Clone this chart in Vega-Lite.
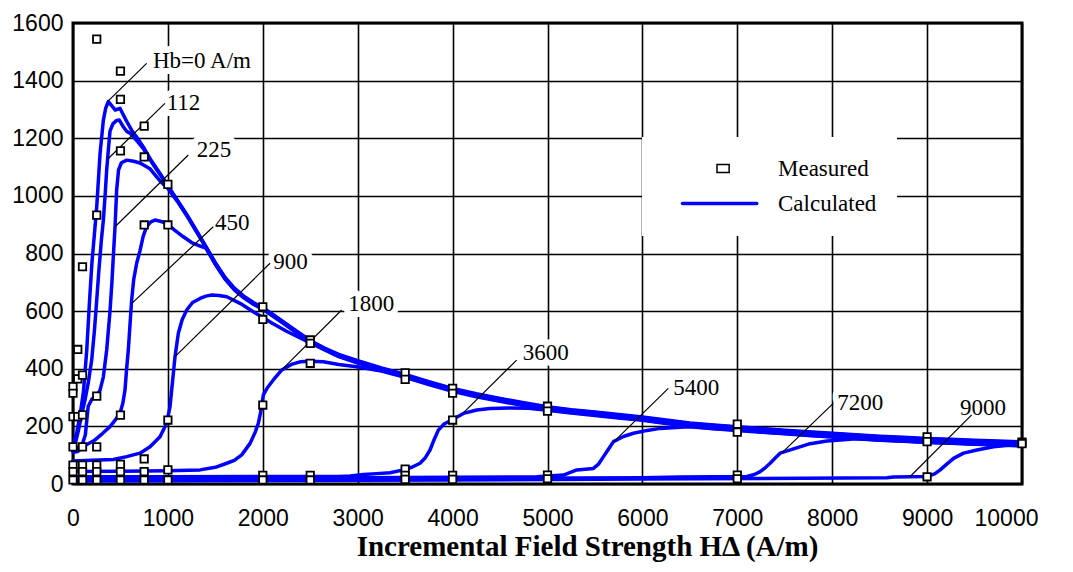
{
 "$schema": "https://vega.github.io/schema/vega-lite/v6.json",
 "width": 949,
 "height": 461,
 "autosize": {"type": "none"},
 "padding": {"left": 73, "top": 23, "right": 51, "bottom": 88},
 "background": "white",
 "config": {
  "view": {"stroke": "black", "strokeWidth": 3},
  "axis": {"domain": false, "ticks": false, "grid": true, "gridColor": "black", "gridWidth": 1.6, "gridOpacity": 1, "labelFont": "Liberation Sans", "labelFontSize": 23, "labelColor": "black", "format": "d"},
  "axisX": {"tickCount": 10, "labelPadding": 23, "labelFlush": false, "labelOverlap": false, "titleFont": "Liberation Serif", "titleFontSize": 29, "titleFontWeight": "bold", "titleColor": "black", "titlePadding": 2, "titleX": 514, "labelOffset": {"condition": {"test": "datum.value === 10000", "value": -16}, "value": 0}},
  "axisY": {"tickCount": 8, "labelPadding": 10, "labelOverlap": false}
 },
 "datasets": {
  "curves": [
   {"hb":"0","h":0,"mu":130},{"hb":"0","h":40,"mu":180},{"hb":"0","h":75,"mu":240},{"hb":"0","h":110,"mu":320},{"hb":"0","h":145,"mu":465},{"hb":"0","h":175,"mu":640},{"hb":"0","h":200,"mu":770},{"hb":"0","h":225,"mu":865},{"hb":"0","h":250,"mu":962},{"hb":"0","h":285,"mu":1147},{"hb":"0","h":320,"mu":1263},{"hb":"0","h":345,"mu":1305},{"hb":"0","h":372,"mu":1327},{"hb":"0","h":410,"mu":1312},{"hb":"0","h":445,"mu":1298},{"hb":"0","h":495,"mu":1304},{"hb":"0","h":560,"mu":1262},{"hb":"0","h":618,"mu":1228},{"hb":"0","h":680,"mu":1200},{"hb":"0","h":741,"mu":1170},{"hb":"0","h":830,"mu":1120},{"hb":"0","h":917,"mu":1078},{"hb":"0","h":1000,"mu":1035},{"hb":"0","h":1100,"mu":985},{"hb":"0","h":1200,"mu":935},{"hb":"0","h":1300,"mu":880},{"hb":"0","h":1400,"mu":825},{"hb":"0","h":1500,"mu":768},{"hb":"0","h":1600,"mu":718},{"hb":"0","h":1700,"mu":680},{"hb":"0","h":1800,"mu":652},{"hb":"0","h":1900,"mu":630},{"hb":"0","h":2000,"mu":612},{"hb":"0","h":2100,"mu":590},{"hb":"0","h":2200,"mu":567},{"hb":"0","h":2350,"mu":532},{"hb":"0","h":2500,"mu":498},{"hb":"0","h":2650,"mu":472},{"hb":"0","h":2800,"mu":450},{"hb":"0","h":3000,"mu":428},{"hb":"0","h":3250,"mu":403},{"hb":"0","h":3500,"mu":380},{"hb":"0","h":3750,"mu":355},{"hb":"0","h":4000,"mu":332},{"hb":"0","h":4250,"mu":313},{"hb":"0","h":4500,"mu":297},{"hb":"0","h":4750,"mu":282},{"hb":"0","h":5000,"mu":268},{"hb":"0","h":5250,"mu":258},{"hb":"0","h":5500,"mu":250},{"hb":"0","h":5750,"mu":241},{"hb":"0","h":6000,"mu":233},{"hb":"0","h":6250,"mu":222},{"hb":"0","h":6500,"mu":212},{"hb":"0","h":6750,"mu":205},{"hb":"0","h":7000,"mu":199},{"hb":"0","h":7250,"mu":193},{"hb":"0","h":7500,"mu":187},{"hb":"0","h":7750,"mu":181},{"hb":"0","h":8000,"mu":176},{"hb":"0","h":8250,"mu":171},{"hb":"0","h":8500,"mu":166},{"hb":"0","h":8750,"mu":162},{"hb":"0","h":9000,"mu":158},{"hb":"0","h":9250,"mu":155},{"hb":"0","h":9500,"mu":152},{"hb":"0","h":9750,"mu":149},{"hb":"0","h":10000,"mu":146},

   {"hb":"112","h":0,"mu":120},{"hb":"112","h":30,"mu":148},{"hb":"112","h":60,"mu":190},{"hb":"112","h":90,"mu":240},{"hb":"112","h":126,"mu":291},{"hb":"112","h":160,"mu":350},{"hb":"112","h":197,"mu":430},{"hb":"112","h":225,"mu":530},{"hb":"112","h":250,"mu":638},{"hb":"112","h":270,"mu":730},{"hb":"112","h":285,"mu":790},{"hb":"112","h":300,"mu":850},{"hb":"112","h":320,"mu":916},{"hb":"112","h":340,"mu":1010},{"hb":"112","h":355,"mu":1090},{"hb":"112","h":375,"mu":1170},{"hb":"112","h":390,"mu":1225},{"hb":"112","h":420,"mu":1250},{"hb":"112","h":460,"mu":1262},{"hb":"112","h":488,"mu":1263},{"hb":"112","h":530,"mu":1240},{"hb":"112","h":565,"mu":1224},{"hb":"112","h":601,"mu":1218},{"hb":"112","h":650,"mu":1200},{"hb":"112","h":741,"mu":1164},{"hb":"112","h":830,"mu":1116},{"hb":"112","h":917,"mu":1074},{"hb":"112","h":1000,"mu":1033},{"hb":"112","h":1100,"mu":983},{"hb":"112","h":1200,"mu":933},{"hb":"112","h":1300,"mu":878},{"hb":"112","h":1400,"mu":823},{"hb":"112","h":1500,"mu":766},{"hb":"112","h":1600,"mu":716},{"hb":"112","h":1700,"mu":678},{"hb":"112","h":1800,"mu":650},{"hb":"112","h":1900,"mu":628},{"hb":"112","h":2000,"mu":610},{"hb":"112","h":2100,"mu":588},{"hb":"112","h":2200,"mu":565},{"hb":"112","h":2350,"mu":530},{"hb":"112","h":2500,"mu":496},{"hb":"112","h":2650,"mu":470},{"hb":"112","h":2800,"mu":448},{"hb":"112","h":3000,"mu":426},{"hb":"112","h":3250,"mu":401},{"hb":"112","h":3500,"mu":378},{"hb":"112","h":3750,"mu":353},{"hb":"112","h":4000,"mu":330},{"hb":"112","h":4250,"mu":311},{"hb":"112","h":4500,"mu":295},{"hb":"112","h":4750,"mu":280},{"hb":"112","h":5000,"mu":266},{"hb":"112","h":5250,"mu":256},{"hb":"112","h":5500,"mu":248},{"hb":"112","h":5750,"mu":239},{"hb":"112","h":6000,"mu":231},{"hb":"112","h":6250,"mu":220},{"hb":"112","h":6500,"mu":210},{"hb":"112","h":6750,"mu":203},{"hb":"112","h":7000,"mu":197},{"hb":"112","h":7250,"mu":191},{"hb":"112","h":7500,"mu":185},{"hb":"112","h":7750,"mu":179},{"hb":"112","h":8000,"mu":174},{"hb":"112","h":8250,"mu":169},{"hb":"112","h":8500,"mu":164},{"hb":"112","h":8750,"mu":160},{"hb":"112","h":9000,"mu":156},{"hb":"112","h":9250,"mu":153},{"hb":"112","h":9500,"mu":150},{"hb":"112","h":9750,"mu":147},{"hb":"112","h":10000,"mu":144},

   {"hb":"225","h":0,"mu":118},{"hb":"225","h":50,"mu":125},{"hb":"225","h":100,"mu":140},{"hb":"225","h":130,"mu":170},{"hb":"225","h":160,"mu":270},{"hb":"225","h":200,"mu":295},{"hb":"225","h":250,"mu":305},{"hb":"225","h":285,"mu":326},{"hb":"225","h":320,"mu":372},{"hb":"225","h":355,"mu":465},{"hb":"225","h":390,"mu":600},{"hb":"225","h":410,"mu":700},{"hb":"225","h":425,"mu":790},{"hb":"225","h":443,"mu":893},{"hb":"225","h":460,"mu":1020},{"hb":"225","h":480,"mu":1090},{"hb":"225","h":510,"mu":1115},{"hb":"225","h":566,"mu":1124},{"hb":"225","h":640,"mu":1120},{"hb":"225","h":706,"mu":1114},{"hb":"225","h":812,"mu":1094},{"hb":"225","h":917,"mu":1052},{"hb":"225","h":1000,"mu":1026},{"hb":"225","h":1100,"mu":981},{"hb":"225","h":1200,"mu":931},{"hb":"225","h":1300,"mu":876},{"hb":"225","h":1400,"mu":821},{"hb":"225","h":1500,"mu":764},{"hb":"225","h":1600,"mu":714},{"hb":"225","h":1700,"mu":676},{"hb":"225","h":1800,"mu":648},{"hb":"225","h":1900,"mu":626},{"hb":"225","h":2000,"mu":608},{"hb":"225","h":2100,"mu":586},{"hb":"225","h":2200,"mu":563},{"hb":"225","h":2350,"mu":528},{"hb":"225","h":2500,"mu":494},{"hb":"225","h":2650,"mu":468},{"hb":"225","h":2800,"mu":446},{"hb":"225","h":3000,"mu":424},{"hb":"225","h":3250,"mu":399},{"hb":"225","h":3500,"mu":376},{"hb":"225","h":3750,"mu":351},{"hb":"225","h":4000,"mu":328},{"hb":"225","h":4250,"mu":309},{"hb":"225","h":4500,"mu":293},{"hb":"225","h":4750,"mu":278},{"hb":"225","h":5000,"mu":264},{"hb":"225","h":5250,"mu":254},{"hb":"225","h":5500,"mu":246},{"hb":"225","h":5750,"mu":237},{"hb":"225","h":6000,"mu":229},{"hb":"225","h":6250,"mu":218},{"hb":"225","h":6500,"mu":208},{"hb":"225","h":6750,"mu":201},{"hb":"225","h":7000,"mu":195},{"hb":"225","h":7250,"mu":189},{"hb":"225","h":7500,"mu":183},{"hb":"225","h":7750,"mu":177},{"hb":"225","h":8000,"mu":172},{"hb":"225","h":8250,"mu":167},{"hb":"225","h":8500,"mu":162},{"hb":"225","h":8750,"mu":158},{"hb":"225","h":9000,"mu":154},{"hb":"225","h":9250,"mu":151},{"hb":"225","h":9500,"mu":148},{"hb":"225","h":9750,"mu":145},{"hb":"225","h":10000,"mu":142},

   {"hb":"450","h":0,"mu":110},{"hb":"450","h":50,"mu":113},{"hb":"450","h":100,"mu":128},{"hb":"450","h":160,"mu":140},{"hb":"450","h":232,"mu":153},{"hb":"450","h":310,"mu":175},{"hb":"450","h":390,"mu":199},{"hb":"450","h":440,"mu":220},{"hb":"450","h":495,"mu":245},{"hb":"450","h":525,"mu":280},{"hb":"450","h":548,"mu":326},{"hb":"450","h":565,"mu":400},{"hb":"450","h":583,"mu":465},{"hb":"450","h":600,"mu":550},{"hb":"450","h":618,"mu":638},{"hb":"450","h":640,"mu":710},{"hb":"450","h":671,"mu":766},{"hb":"450","h":706,"mu":810},{"hb":"450","h":740,"mu":860},{"hb":"450","h":776,"mu":893},{"hb":"450","h":820,"mu":910},{"hb":"450","h":864,"mu":916},{"hb":"450","h":920,"mu":912},{"hb":"450","h":987,"mu":905},{"hb":"450","h":1060,"mu":884},{"hb":"450","h":1163,"mu":858},{"hb":"450","h":1250,"mu":838},{"hb":"450","h":1339,"mu":826},{"hb":"450","h":1400,"mu":819},{"hb":"450","h":1500,"mu":762},{"hb":"450","h":1600,"mu":712},{"hb":"450","h":1700,"mu":674},{"hb":"450","h":1800,"mu":646},{"hb":"450","h":1900,"mu":624},{"hb":"450","h":2000,"mu":606},{"hb":"450","h":2100,"mu":584},{"hb":"450","h":2200,"mu":561},{"hb":"450","h":2350,"mu":526},{"hb":"450","h":2500,"mu":492},{"hb":"450","h":2650,"mu":466},{"hb":"450","h":2800,"mu":444},{"hb":"450","h":3000,"mu":422},{"hb":"450","h":3250,"mu":397},{"hb":"450","h":3500,"mu":374},{"hb":"450","h":3750,"mu":349},{"hb":"450","h":4000,"mu":326},{"hb":"450","h":4250,"mu":307},{"hb":"450","h":4500,"mu":291},{"hb":"450","h":4750,"mu":276},{"hb":"450","h":5000,"mu":262},{"hb":"450","h":5250,"mu":252},{"hb":"450","h":5500,"mu":244},{"hb":"450","h":5750,"mu":235},{"hb":"450","h":6000,"mu":227},{"hb":"450","h":6250,"mu":216},{"hb":"450","h":6500,"mu":206},{"hb":"450","h":6750,"mu":199},{"hb":"450","h":7000,"mu":193},{"hb":"450","h":7250,"mu":187},{"hb":"450","h":7500,"mu":181},{"hb":"450","h":7750,"mu":175},{"hb":"450","h":8000,"mu":170},{"hb":"450","h":8250,"mu":165},{"hb":"450","h":8500,"mu":160},{"hb":"450","h":8750,"mu":156},{"hb":"450","h":9000,"mu":152},{"hb":"450","h":9250,"mu":149},{"hb":"450","h":9500,"mu":146},{"hb":"450","h":9750,"mu":143},{"hb":"450","h":10000,"mu":140},

   {"hb":"900","h":0,"mu":80},{"hb":"900","h":200,"mu":82},{"hb":"900","h":425,"mu":85},{"hb":"900","h":566,"mu":95},{"hb":"900","h":706,"mu":107},{"hb":"900","h":812,"mu":129},{"hb":"900","h":917,"mu":164},{"hb":"900","h":987,"mu":211},{"hb":"900","h":1022,"mu":268},{"hb":"900","h":1050,"mu":360},{"hb":"900","h":1075,"mu":442},{"hb":"900","h":1110,"mu":523},{"hb":"900","h":1150,"mu":570},{"hb":"900","h":1198,"mu":604},{"hb":"900","h":1260,"mu":630},{"hb":"900","h":1339,"mu":644},{"hb":"900","h":1400,"mu":652},{"hb":"900","h":1462,"mu":656},{"hb":"900","h":1540,"mu":654},{"hb":"900","h":1620,"mu":650},{"hb":"900","h":1760,"mu":627},{"hb":"900","h":1900,"mu":598},{"hb":"900","h":2000,"mu":578},{"hb":"900","h":2100,"mu":558},{"hb":"900","h":2250,"mu":530},{"hb":"900","h":2500,"mu":490},{"hb":"900","h":2650,"mu":466},{"hb":"900","h":2800,"mu":442},{"hb":"900","h":3000,"mu":420},{"hb":"900","h":3250,"mu":395},{"hb":"900","h":3500,"mu":372},{"hb":"900","h":3750,"mu":347},{"hb":"900","h":4000,"mu":324},{"hb":"900","h":4250,"mu":305},{"hb":"900","h":4500,"mu":289},{"hb":"900","h":4750,"mu":274},{"hb":"900","h":5000,"mu":260},{"hb":"900","h":5250,"mu":250},{"hb":"900","h":5500,"mu":242},{"hb":"900","h":5750,"mu":233},{"hb":"900","h":6000,"mu":225},{"hb":"900","h":6250,"mu":214},{"hb":"900","h":6500,"mu":204},{"hb":"900","h":6750,"mu":197},{"hb":"900","h":7000,"mu":191},{"hb":"900","h":7250,"mu":185},{"hb":"900","h":7500,"mu":179},{"hb":"900","h":7750,"mu":173},{"hb":"900","h":8000,"mu":168},{"hb":"900","h":8250,"mu":163},{"hb":"900","h":8500,"mu":158},{"hb":"900","h":8750,"mu":154},{"hb":"900","h":9000,"mu":150},{"hb":"900","h":9250,"mu":147},{"hb":"900","h":9500,"mu":144},{"hb":"900","h":9750,"mu":141},{"hb":"900","h":10000,"mu":138},

   {"hb":"1800","h":0,"mu":43},{"hb":"1800","h":500,"mu":44},{"hb":"1800","h":1000,"mu":46},{"hb":"1800","h":1339,"mu":49},{"hb":"1800","h":1500,"mu":58},{"hb":"1800","h":1620,"mu":72},{"hb":"1800","h":1700,"mu":82},{"hb":"1800","h":1778,"mu":101},{"hb":"1800","h":1866,"mu":141},{"hb":"1800","h":1920,"mu":180},{"hb":"1800","h":1953,"mu":211},{"hb":"1800","h":1975,"mu":245},{"hb":"1800","h":1989,"mu":274},{"hb":"1800","h":2006,"mu":309},{"hb":"1800","h":2050,"mu":335},{"hb":"1800","h":2111,"mu":361},{"hb":"1800","h":2200,"mu":396},{"hb":"1800","h":2300,"mu":415},{"hb":"1800","h":2393,"mu":424},{"hb":"1800","h":2500,"mu":426},{"hb":"1800","h":2638,"mu":424},{"hb":"1800","h":2800,"mu":415},{"hb":"1800","h":2990,"mu":407},{"hb":"1800","h":3250,"mu":392},{"hb":"1800","h":3500,"mu":370},{"hb":"1800","h":3750,"mu":345},{"hb":"1800","h":4000,"mu":322},{"hb":"1800","h":4250,"mu":303},{"hb":"1800","h":4500,"mu":287},{"hb":"1800","h":4750,"mu":272},{"hb":"1800","h":5000,"mu":258},{"hb":"1800","h":5250,"mu":248},{"hb":"1800","h":5500,"mu":240},{"hb":"1800","h":5750,"mu":231},{"hb":"1800","h":6000,"mu":223},{"hb":"1800","h":6250,"mu":212},{"hb":"1800","h":6500,"mu":202},{"hb":"1800","h":6750,"mu":195},{"hb":"1800","h":7000,"mu":189},{"hb":"1800","h":7250,"mu":183},{"hb":"1800","h":7500,"mu":177},{"hb":"1800","h":7750,"mu":171},{"hb":"1800","h":8000,"mu":166},{"hb":"1800","h":8250,"mu":161},{"hb":"1800","h":8500,"mu":156},{"hb":"1800","h":8750,"mu":152},{"hb":"1800","h":9000,"mu":148},{"hb":"1800","h":9250,"mu":145},{"hb":"1800","h":9500,"mu":142},{"hb":"1800","h":9750,"mu":139},{"hb":"1800","h":10000,"mu":136},

   {"hb":"3600","h":0,"mu":25},{"hb":"3600","h":1000,"mu":25},{"hb":"3600","h":2000,"mu":26},{"hb":"3600","h":2800,"mu":26},{"hb":"3600","h":2920,"mu":28},{"hb":"3600","h":3060,"mu":33},{"hb":"3600","h":3200,"mu":36},{"hb":"3600","h":3341,"mu":39},{"hb":"3600","h":3481,"mu":49},{"hb":"3600","h":3570,"mu":58},{"hb":"3600","h":3657,"mu":72},{"hb":"3600","h":3710,"mu":90},{"hb":"3600","h":3762,"mu":118},{"hb":"3600","h":3800,"mu":150},{"hb":"3600","h":3850,"mu":187},{"hb":"3600","h":3910,"mu":208},{"hb":"3600","h":3991,"mu":222},{"hb":"3600","h":4114,"mu":245},{"hb":"3600","h":4255,"mu":257},{"hb":"3600","h":4395,"mu":262},{"hb":"3600","h":4600,"mu":264},{"hb":"3600","h":4800,"mu":263},{"hb":"3600","h":5000,"mu":256},{"hb":"3600","h":5250,"mu":246},{"hb":"3600","h":5500,"mu":238},{"hb":"3600","h":5750,"mu":229},{"hb":"3600","h":6000,"mu":221},{"hb":"3600","h":6250,"mu":210},{"hb":"3600","h":6500,"mu":200},{"hb":"3600","h":6750,"mu":193},{"hb":"3600","h":7000,"mu":187},{"hb":"3600","h":7250,"mu":181},{"hb":"3600","h":7500,"mu":175},{"hb":"3600","h":7750,"mu":169},{"hb":"3600","h":8000,"mu":164},{"hb":"3600","h":8250,"mu":159},{"hb":"3600","h":8500,"mu":154},{"hb":"3600","h":8750,"mu":150},{"hb":"3600","h":9000,"mu":146},{"hb":"3600","h":9250,"mu":143},{"hb":"3600","h":9500,"mu":140},{"hb":"3600","h":9750,"mu":137},{"hb":"3600","h":10000,"mu":134},

   {"hb":"5400","h":0,"mu":20},{"hb":"5400","h":1000,"mu":21},{"hb":"5400","h":2000,"mu":21},{"hb":"5400","h":3000,"mu":22},{"hb":"5400","h":4000,"mu":23},{"hb":"5400","h":4887,"mu":25},{"hb":"5400","h":5168,"mu":31},{"hb":"5400","h":5309,"mu":49},{"hb":"5400","h":5484,"mu":54},{"hb":"5400","h":5540,"mu":70},{"hb":"5400","h":5590,"mu":95},{"hb":"5400","h":5640,"mu":120},{"hb":"5400","h":5695,"mu":147},{"hb":"5400","h":5800,"mu":165},{"hb":"5400","h":5906,"mu":176},{"hb":"5400","h":6050,"mu":186},{"hb":"5400","h":6187,"mu":193},{"hb":"5400","h":6400,"mu":197},{"hb":"5400","h":6500,"mu":199},{"hb":"5400","h":6750,"mu":192},{"hb":"5400","h":7000,"mu":186},{"hb":"5400","h":7250,"mu":180},{"hb":"5400","h":7500,"mu":174},{"hb":"5400","h":7750,"mu":168},{"hb":"5400","h":8000,"mu":163},{"hb":"5400","h":8250,"mu":158},{"hb":"5400","h":8500,"mu":153},{"hb":"5400","h":8750,"mu":149},{"hb":"5400","h":9000,"mu":145},{"hb":"5400","h":9250,"mu":142},{"hb":"5400","h":9500,"mu":139},{"hb":"5400","h":9750,"mu":136},{"hb":"5400","h":10000,"mu":133},

   {"hb":"7200","h":0,"mu":16},{"hb":"7200","h":2000,"mu":17},{"hb":"7200","h":4000,"mu":19},{"hb":"7200","h":6000,"mu":22},{"hb":"7200","h":6398,"mu":24},{"hb":"7200","h":7101,"mu":26},{"hb":"7200","h":7180,"mu":33},{"hb":"7200","h":7241,"mu":43},{"hb":"7200","h":7300,"mu":58},{"hb":"7200","h":7346,"mu":72},{"hb":"7200","h":7400,"mu":90},{"hb":"7200","h":7451,"mu":107},{"hb":"7200","h":7592,"mu":122},{"hb":"7200","h":7768,"mu":140},{"hb":"7200","h":7944,"mu":149},{"hb":"7200","h":8155,"mu":154},{"hb":"7200","h":8250,"mu":157},{"hb":"7200","h":8500,"mu":152},{"hb":"7200","h":8750,"mu":148},{"hb":"7200","h":9000,"mu":144},{"hb":"7200","h":9250,"mu":141},{"hb":"7200","h":9500,"mu":138},{"hb":"7200","h":9750,"mu":135},{"hb":"7200","h":10000,"mu":132},

   {"hb":"9000","h":0,"mu":10},{"hb":"9000","h":2000,"mu":12},{"hb":"9000","h":4000,"mu":14},{"hb":"9000","h":6000,"mu":17},{"hb":"9000","h":7241,"mu":19},{"hb":"9000","h":8576,"mu":22},{"hb":"9000","h":8646,"mu":24},{"hb":"9000","h":8998,"mu":26},{"hb":"9000","h":9080,"mu":35},{"hb":"9000","h":9138,"mu":49},{"hb":"9000","h":9210,"mu":70},{"hb":"9000","h":9279,"mu":89},{"hb":"9000","h":9384,"mu":107},{"hb":"9000","h":9525,"mu":118},{"hb":"9000","h":9700,"mu":129},{"hb":"9000","h":9911,"mu":136},{"hb":"9000","h":10000,"mu":141}
  ],
  "measured": [
   {"h":0,"mu":338},{"h":0,"mu":315},{"h":0,"mu":234},{"h":0,"mu":129},{"h":0,"mu":66},{"h":0,"mu":43},{"h":0,"mu":14},
   {"h":50,"mu":467},{"h":50,"mu":365},{"h":50,"mu":234},
   {"h":100,"mu":754},{"h":100,"mu":378},{"h":100,"mu":240},{"h":100,"mu":129},{"h":100,"mu":66},{"h":100,"mu":43},{"h":100,"mu":14},
   {"h":250,"mu":1544},{"h":250,"mu":933},{"h":250,"mu":305},{"h":250,"mu":129},{"h":250,"mu":66},{"h":250,"mu":43},{"h":250,"mu":14},
   {"h":500,"mu":1433},{"h":500,"mu":1335},{"h":500,"mu":1156},{"h":500,"mu":239},{"h":500,"mu":68},{"h":500,"mu":43},{"h":500,"mu":14},
   {"h":750,"mu":1242},{"h":750,"mu":1135},{"h":750,"mu":899},{"h":750,"mu":87},{"h":750,"mu":43},{"h":750,"mu":14},
   {"h":1000,"mu":1040},{"h":1000,"mu":899},{"h":1000,"mu":222},{"h":1000,"mu":49},{"h":1000,"mu":14},
   {"h":2000,"mu":615},{"h":2000,"mu":571},{"h":2000,"mu":274},{"h":2000,"mu":30},{"h":2000,"mu":14},
   {"h":2500,"mu":500},{"h":2500,"mu":488},{"h":2500,"mu":419},{"h":2500,"mu":30},{"h":2500,"mu":14},
   {"h":3500,"mu":386},{"h":3500,"mu":363},{"h":3500,"mu":52},{"h":3500,"mu":30},{"h":3500,"mu":16},
   {"h":4000,"mu":332},{"h":4000,"mu":315},{"h":4000,"mu":222},{"h":4000,"mu":30},{"h":4000,"mu":16},
   {"h":5000,"mu":270},{"h":5000,"mu":253},{"h":5000,"mu":31},{"h":5000,"mu":18},
   {"h":7000,"mu":208},{"h":7000,"mu":180},{"h":7000,"mu":31},{"h":7000,"mu":18},
   {"h":9000,"mu":164},{"h":9000,"mu":147},{"h":9000,"mu":25},
   {"h":10000,"mu":145},{"h":10000,"mu":140}
  ],
  "labels": [
   {"label":"Hb=0 A/m","hx":369,"hy":1329,"lx":776,"ly":1460,"tx":843,"ty":1468},
   {"label":"112","hx":364,"hy":1127,"lx":969,"ly":1321,"tx":987,"ty":1321},
   {"label":"225","hx":443,"hy":893,"lx":1215,"ly":1142,"tx":1304,"ty":1159},
   {"label":"450","hx":620,"hy":627,"lx":1478,"ly":893,"tx":1497,"ty":905},
   {"label":"900","hx":1075,"hy":442,"lx":2076,"ly":766,"tx":2111,"ty":769},
   {"label":"1800","hx":2199,"hy":396,"lx":2831,"ly":604,"tx":2901,"ty":625},
   {"label":"3600","hx":4113,"hy":247,"lx":4675,"ly":430,"tx":4739,"ty":456},
   {"label":"5400","hx":5700,"hy":147,"lx":6273,"ly":332,"tx":6325,"ty":332},
   {"label":"7200","hx":7467,"hy":107,"lx":8011,"ly":280,"tx":8054,"ty":280},
   {"label":"9000","hx":8819,"hy":25,"lx":9470,"ly":240,"tx":9346,"ty":265}
  ]
 },
 "layer": [
  {
   "data": {"name": "labels"},
   "mark": {"type": "text", "align": "left", "baseline": "middle", "font": "Liberation Serif", "fontSize": 23, "fill": "white", "stroke": "white", "strokeWidth": 12, "strokeJoin": "round"},
   "encoding": {
    "x": {"field": "tx", "type": "quantitative", "scale": {"domain": [0, 10000]}, "axis": {"title": "Incremental Field Strength HΔ (A/m)"}},
    "y": {"field": "ty", "type": "quantitative", "scale": {"domain": [0, 1600]}, "axis": {"title": null}},
    "text": {"field": "label"}
   }
  },
  {
   "data": {"name": "curves"},
   "mark": {"type": "line", "strokeWidth": 3.5, "strokeJoin": "round", "strokeCap": "round"},
   "encoding": {
    "x": {"field": "h", "type": "quantitative", "axis": {"title": "Incremental Field Strength HΔ (A/m)"}},
    "y": {"field": "mu", "type": "quantitative", "axis": {"title": null}},
    "detail": {"field": "hb"},
    "color": {"datum": "Calculated", "scale": {"domain": ["Measured", "Calculated"], "range": ["black", "#0000ff"]},
     "legend": {
      "title": null, "orient": "none", "legendX": 569, "legendY": 114, "fillColor": "white", "padding": 20,
      "symbolSize": 225, "symbolStrokeWidth": 1.5, "labelOffset": 93, "rowPadding": 11, "labelLimit": 400,
      "labelFont": "Liberation Serif", "labelFontSize": 23, "labelColor": "black",
      "encode": {
       "symbols": {"update": {
        "shape": {"signal": "datum.value === 'Measured' ? 'M5.8,-0.52H7.42V0.52H5.8Z' : 'M1.2,0H11.1'"},
        "stroke": {"signal": "datum.value === 'Measured' ? 'black' : '#0000ff'"},
        "fill": {"signal": "datum.value === 'Measured' ? 'white' : 'transparent'"},
        "strokeWidth": {"signal": "datum.value === 'Measured' ? 1.5 : 3.5"},
        "strokeCap": {"value": "round"},
        "opacity": {"value": 1}
       }}
      }
     }}
   }
  },
  {
   "data": {"name": "labels"},
   "mark": {"type": "rule", "color": "black", "strokeWidth": 1.2},
   "encoding": {
    "x": {"field": "hx", "type": "quantitative", "axis": {"title": "Incremental Field Strength HΔ (A/m)"}},
    "y": {"field": "hy", "type": "quantitative", "axis": {"title": null}},
    "x2": {"field": "lx"},
    "y2": {"field": "ly"}
   }
  },
  {
   "data": {"name": "measured"},
   "mark": {"type": "point", "shape": "square", "size": 55, "filled": false, "fill": "white", "strokeWidth": 1.8, "opacity": 1},
   "encoding": {
    "x": {"field": "h", "type": "quantitative", "axis": {"title": "Incremental Field Strength HΔ (A/m)"}},
    "y": {"field": "mu", "type": "quantitative", "axis": {"title": null}},
    "color": {"datum": "Measured"}
   }
  },
  {
   "data": {"name": "labels"},
   "mark": {"type": "text", "align": "left", "baseline": "middle", "font": "Liberation Serif", "fontSize": 23, "fill": "black"},
   "encoding": {
    "x": {"field": "tx", "type": "quantitative", "axis": {"title": "Incremental Field Strength HΔ (A/m)"}},
    "y": {"field": "ty", "type": "quantitative", "axis": {"title": null}},
    "text": {"field": "label"}
   }
  }
 ]
}
